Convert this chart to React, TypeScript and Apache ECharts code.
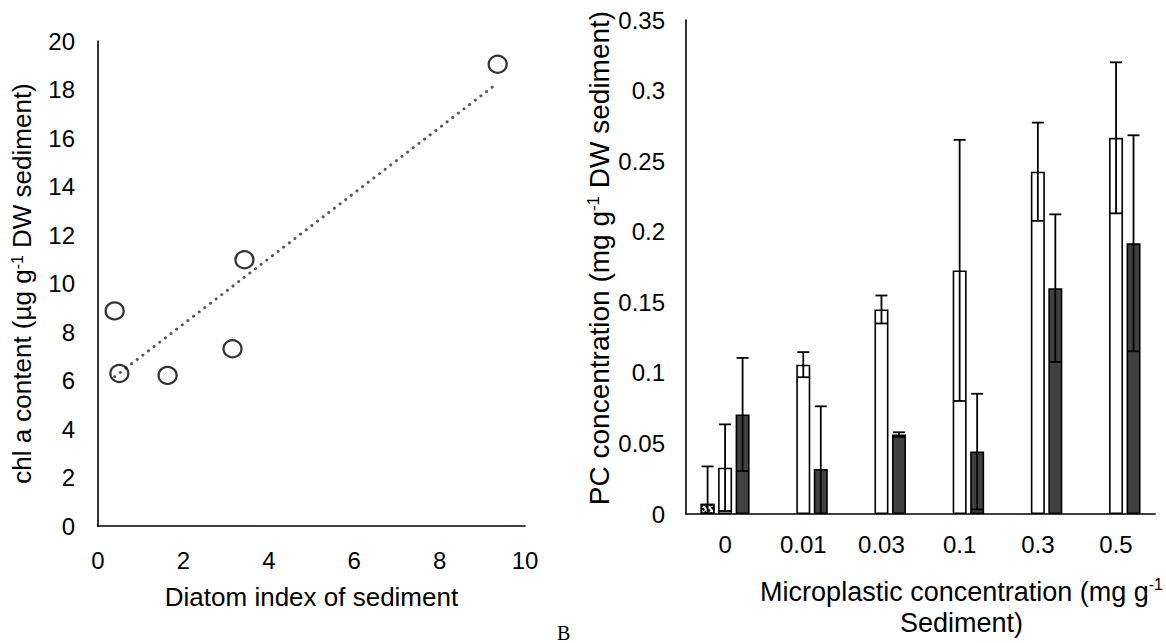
import React, { useEffect, useRef } from "react";
import * as echarts from "echarts";

// ---- Panel A: diatom index vs chl a ----
const diatomIndex = [0.39, 0.5, 1.63, 3.15, 3.43, 9.36];
const chlA = [8.87, 6.29, 6.21, 7.31, 10.98, 19.04];

// ---- Panel B: PC concentration ----
const categories = ["0", "0.01", "0.03", "0.1", "0.3", "0.5"];
const hatchedMean = [0.0072, null, null, null, null, null];
const hatchedSd = [0.0265, null, null, null, null, null];
const whiteMean = [0.0328, 0.1058, 0.1449, 0.1726, 0.2425, 0.2665];
const whiteSd = [0.0307, 0.0089, 0.0099, 0.0925, 0.0348, 0.0535];
const darkMean = [0.0705, 0.0319, 0.0563, 0.0442, 0.16, 0.1918];
const darkSd = [0.0401, 0.0444, 0.0016, 0.041, 0.0523, 0.0765];

const FONT = "Liberation Sans, Arial, sans-serif";

function linearFit(xs: number[], ys: number[]) {
  const n = xs.length;
  const mx = xs.reduce((a, b) => a + b, 0) / n;
  const my = ys.reduce((a, b) => a + b, 0) / n;
  let sxy = 0, sxx = 0;
  for (let i = 0; i < n; i++) {
    sxy += (xs[i] - mx) * (ys[i] - my);
    sxx += (xs[i] - mx) * (xs[i] - mx);
  }
  const slope = sxy / sxx;
  return { slope, intercept: my - slope * mx };
}

function errorSeries(mean: (number | null)[], sd: (number | null)[], offset: number, xIdx: number, yIdx: number) {
  const data: number[][] = [];
  mean.forEach((m, i) => {
    if (m != null && sd[i] != null) data.push([i, m, sd[i] as number]);
  });
  return {
    type: "custom",
    xAxisIndex: xIdx,
    yAxisIndex: yIdx,
    z: 10,
    silent: true,
    encode: { x: 0, y: 1 },
    data,
    renderItem: (params: any, api: any) => {
      const i = api.value(0);
      const m = api.value(1);
      const s = api.value(2);
      const top = api.coord([i, m + s]);
      const lowVal = m - s;
      const bot = api.coord([i, Math.max(0, lowVal)]);
      const x = top[0] + offset;
      const cap = 6;
      const st = { stroke: "#000", lineWidth: 1.8 };
      const children: any[] = [
        { type: "line", shape: { x1: x, y1: top[1], x2: x, y2: bot[1] }, style: st },
        { type: "line", shape: { x1: x - cap, y1: top[1], x2: x + cap, y2: top[1] }, style: st },
      ];
      if (lowVal > 0) {
        children.push({ type: "line", shape: { x1: x - cap, y1: bot[1], x2: x + cap, y2: bot[1] }, style: st });
      }
      return { type: "group", children };
    },
  };
}

export default function App() {
  const ref = useRef<HTMLDivElement>(null);

  useEffect(() => {
    if (!ref.current) return;
    const chart = echarts.init(ref.current, undefined, { renderer: "svg" });
    const fit = linearFit(diatomIndex, chlA);
    const xMin = Math.min(...diatomIndex);
    const xMax = Math.max(...diatomIndex);
    const trend = [
      [xMin, fit.intercept + fit.slope * xMin],
      [xMax, fit.intercept + fit.slope * xMax],
    ];

    const axisLine = { show: true, lineStyle: { color: "#000", width: 1.6 } };
    const tickLabel = (size: number) => ({ color: "#000", fontSize: size, fontFamily: FONT });
    const nameStyle = (size: number) => ({
      color: "#000",
      fontSize: size,
      fontFamily: FONT,
      rich: {
        sup: {
          fontSize: Math.round(size * 0.6),
          fontFamily: FONT,
          color: "#000",
          verticalAlign: "top",
          padding: [0, 0, Math.round(size * 0.4), 0],
        },
      },
    });

    const BAR_W = 14;
    const STEP = 17.5;

    chart.setOption({
      animation: false,
      backgroundColor: "#fff",
      grid: [
        { left: 98, top: 41, width: 427, height: 485 },
        { left: 686, top: 20, width: 474, height: 502 },
      ],
      xAxis: [
        {
          gridIndex: 0,
          type: "value",
          min: 0,
          max: 10,
          interval: 2,
          axisLine,
          axisTick: { show: false },
          splitLine: { show: false },
          axisLabel: { ...tickLabel(24), margin: 22 },
          name: "Diatom index of sediment",
          nameLocation: "middle",
          nameGap: 58,
          nameTextStyle: nameStyle(26),
        },
        {
          gridIndex: 1,
          type: "category",
          data: categories,
          axisLine,
          axisTick: { show: false },
          axisLabel: { ...tickLabel(24), margin: 18 },
          name: "Microplastic concentration (mg g{sup|-1}\nSediment)",
          nameLocation: "middle",
          nameGap: 62,
          nameTextStyle: { ...nameStyle(27), lineHeight: 31, padding: [0, 0, 0, 82] },
        },
      ],
      yAxis: [
        {
          gridIndex: 0,
          type: "value",
          min: 0,
          max: 20,
          interval: 2,
          axisLine,
          axisTick: { show: false },
          splitLine: { show: false },
          axisLabel: { ...tickLabel(24), margin: 23 },
          name: "chl a content (µg g{sup|-1} DW sediment)",
          nameLocation: "middle",
          nameGap: 63,
          nameTextStyle: nameStyle(26),
        },
        {
          gridIndex: 1,
          type: "value",
          min: 0,
          max: 0.35,
          interval: 0.05,
          axisLine,
          axisTick: { show: false },
          splitLine: { show: false },
          axisLabel: { ...tickLabel(24), margin: 21 },
          name: "PC concentration (mg g{sup|-1} DW sediment)",
          nameLocation: "middle",
          nameGap: 73,
          nameTextStyle: { ...nameStyle(28), padding: [0, 0, 0, 18] },
        },
      ],
      series: [
        {
          type: "line",
          xAxisIndex: 0,
          yAxisIndex: 0,
          data: trend,
          symbol: "none",
          silent: true,
          lineStyle: { color: "#595959", width: 3, type: [0.1, 7], cap: "round" },
          z: 2,
        },
        {
          type: "scatter",
          xAxisIndex: 0,
          yAxisIndex: 0,
          data: diatomIndex.map((x, i) => [x, chlA[i]]),
          symbol: "circle",
          symbolSize: [18, 17],
          itemStyle: { color: "transparent", borderColor: "#000", borderWidth: 2.2 },
          z: 3,
        },
        {
          name: "S1",
          type: "bar",
          xAxisIndex: 1,
          yAxisIndex: 1,
          data: hatchedMean,
          barWidth: BAR_W,
          barGap: "25%",
          itemStyle: {
            color: "#fff",
            borderColor: "#000",
            borderWidth: 1.6,
            decal: {
              symbol: "rect",
              color: "#000",
              backgroundColor: "#fff",
              dashArrayX: [[2, 2]],
              dashArrayY: [3, 1],
              rotation: -0.6,
              symbolSize: 1,
            },
          },
        },
        {
          name: "S2",
          type: "bar",
          xAxisIndex: 1,
          yAxisIndex: 1,
          data: whiteMean,
          barWidth: BAR_W,
          barGap: "25%",
          itemStyle: { color: "#fff", borderColor: "#000", borderWidth: 1.6 },
        },
        {
          name: "S3",
          type: "bar",
          xAxisIndex: 1,
          yAxisIndex: 1,
          data: darkMean,
          barWidth: BAR_W,
          barGap: "25%",
          itemStyle: { color: "#404040", borderColor: "#000", borderWidth: 1.6 },
        },
        errorSeries(hatchedMean, hatchedSd, -STEP, 1, 1),
        errorSeries(whiteMean, whiteSd, 0, 1, 1),
        errorSeries(darkMean, darkSd, STEP, 1, 1),
      ],
      graphic: [
        {
          type: "text",
          left: 557,
          top: 623,
          style: { text: "B", fontSize: 20, fontFamily: "Liberation Serif, Times New Roman, serif", fill: "#000" },
        },
      ],
    });
    return () => chart.dispose();
  }, []);

  return (
    <div
      ref={ref}
      style={{ position: "fixed", left: 0, top: 0, width: 1166, height: 643, background: "#fff" }}
    />
  );
}
